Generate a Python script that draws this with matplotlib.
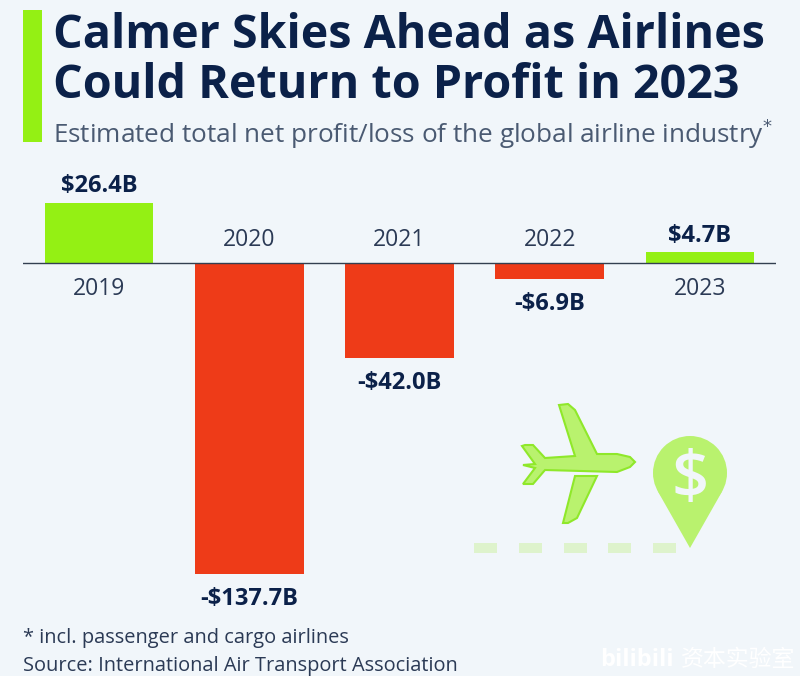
import matplotlib
matplotlib.use('Agg')
import matplotlib.pyplot as plt
from matplotlib.patches import Polygon, Rectangle, Circle

plt.rcParams['font.family'] = ['Open Sans', 'Noto Sans CJK SC', 'DejaVu Sans']

years = ['2019', '2020', '2021', '2022', '2023']
values = [26.4, -137.7, -42.0, -6.9, 4.7]
labels = ['$26.4B', '-$137.7B', '-$42.0B', '-$6.9B', '$4.7B']

bg = '#f1f6fa'
navy = '#0b2149'
green = '#94f014'
red = '#ee3b18'
pale = '#b9f26e'
edge = '#8fe82a'

fig = plt.figure(figsize=(8, 6.76), dpi=100, facecolor=bg)

# pixel overlay for title, footer, icons
over = fig.add_axes([0, 0, 1, 1])
over.set_xlim(0, 800)
over.set_ylim(676, 0)
over.axis('off')

# bars: zero at y=263, 2.26 px per billion
ax = fig.add_axes([23/800, (676-640)/676, 753/800, 440/676])
ax.patch.set_alpha(0)
ax.set_xlim(-0.506, 4.506)
top = (263-200)/2.26
ax.set_ylim(top-440/2.26, top)
ax.axis('off')
colors = [green if v > 0 else red for v in values]
ax.bar(range(5), values, width=0.725, color=colors)
ax.axhline(0, color='#333f50', lw=1)

for i in range(5):
    v = values[i]
    if v > 0:
        ax.annotate(labels[i], (i, v), xytext=(0, 3.5), textcoords='offset points', ha='center', va='bottom',
                    fontsize=17, fontweight='bold', color=navy)
        ax.annotate(years[i], (i, 0), xytext=(0, -10), textcoords='offset points', ha='center', va='top',
                    fontsize=16.5, color='#2b3a55')
    else:
        ax.annotate(labels[i], (i, v), xytext=(0, -9.5), textcoords='offset points', ha='center', va='top',
                    fontsize=17, fontweight='bold', color=navy)
        ax.annotate(years[i], (i, 0), xytext=(0, 8), textcoords='offset points', ha='center', va='bottom',
                    fontsize=16.5, color='#2b3a55')

# header
over.add_patch(Rectangle((23, 10), 19, 132, color=green, lw=0))
over.text(53, 36, 'Calmer Skies Ahead as Airlines', fontsize=33.6, fontweight='bold', color=navy, va='center')
over.text(53, 86, 'Could Return to Profit in 2023', fontsize=33.6, fontweight='bold', color=navy, va='center')
over.text(53, 134, 'Estimated total net profit/loss of the global airline industry$^{*}$', fontsize=18.8,
          color='#4a5a72', va='center')

# footer
over.text(23, 638, '* incl. passenger and cargo airlines', fontsize=14.4, color='#2b3a55', va='center')
over.text(23, 666, 'Source: International Air Transport Association', fontsize=14.4, color='#2b3a55', va='center')
over.text(600, 660, 'bilibili', fontsize=17, color='white', va='center', fontweight='bold')
over.text(681, 660, '资本实验室', fontsize=16.5, color='white', va='center')

# plane
body = [(635, 462), (630, 457), (617, 454), (597, 454), (575, 410), (568, 404), (559, 405),
        (575, 456), (545, 458), (533, 445), (525, 445), (522, 446), (535, 464), (523, 465),
        (535, 468), (523, 484), (533, 484), (545, 470), (617, 472), (630, 467)]
wing = [(575, 476), (597, 476), (577, 518), (568, 523), (563, 523)]
over.add_patch(Polygon(body, fc=pale, ec=edge, lw=1.5))
over.add_patch(Polygon(wing, fc=pale, ec=edge, lw=1.5))

# pin
over.add_patch(Circle((690, 473), 37, fc=pale, lw=0))
over.add_patch(Polygon([(657.8, 491.3), (722.2, 491.3), (690, 548)], fc=pale, lw=0))
over.text(690, 480, '$', fontsize=47, fontweight='semibold', color=bg, ha='center', va='center', parse_math=False)

# dashes
for x0 in [474, 519, 564, 608, 653]:
    over.add_patch(Rectangle((x0, 543), 23, 10, fc='#def3cc', lw=0))

plt.savefig('out.png', dpi=100, facecolor=bg)
